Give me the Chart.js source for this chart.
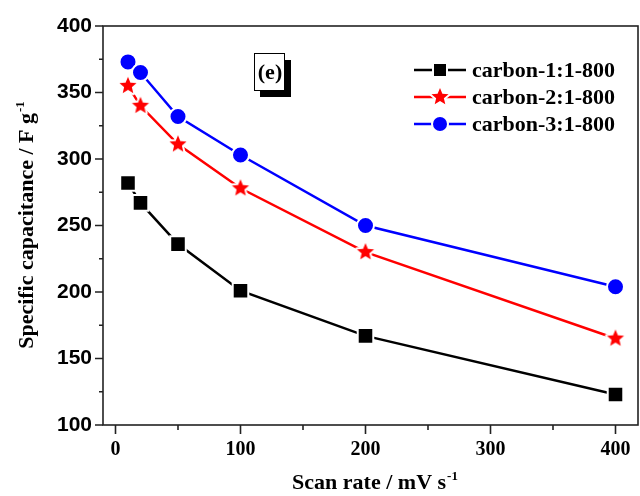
<!DOCTYPE html>
<html>
<head>
<meta charset="utf-8">
<script src="https://cdn.jsdelivr.net/npm/chart.js@4/dist/chart.umd.min.js"></script>
<style>
  html, body { margin: 0; padding: 0; background: #fff; }
  #wrap { width: 640px; height: 496px; }
</style>
</head>
<body>
<div id="wrap"><canvas id="chart1" width="640" height="496"></canvas></div>
<script>
// scan rate (mV/s) and specific capacitance (F/g)
var scanRates = [10, 20, 50, 100, 200, 400];
var carbon1 = [282, 267, 236, 201, 167, 123];
var carbon2 = [355, 340, 311, 278, 230, 165];
var carbon3 = [373, 365, 332, 303, 250, 204];
var seriesNames = ['carbon-1:1-800', 'carbon-2:1-800', 'carbon-3:1-800'];
var xTicks = [0, 100, 200, 300, 400];
var yTicks = [100, 150, 200, 250, 300, 350, 400];

var serif = '"Liberation Serif", "Times New Roman", serif';
var sans = '"Liberation Sans", Arial, sans-serif';

function makeStar(r, color) {
  var c = document.createElement('canvas');
  var s = Math.ceil(r * 2 + 6);
  c.width = c.height = s;
  var g = c.getContext('2d');
  g.beginPath();
  for (var i = 0; i < 10; i++) {
    var rad = i % 2 ? r * 0.45 : r;
    var a = -Math.PI / 2 + i * Math.PI / 5;
    var px = s / 2 + rad * Math.cos(a), py = s / 2 + rad * Math.sin(a);
    if (i) g.lineTo(px, py); else g.moveTo(px, py);
  }
  g.closePath();
  g.lineJoin = 'round';
  g.lineWidth = 4;
  g.strokeStyle = '#fff';
  g.stroke();
  g.fillStyle = color;
  g.fill();
  return c;
}
var redStar = makeStar(9, '#ff0000');

function pts(vals) {
  return scanRates.map(function (x, i) { return { x: x, y: vals[i] }; });
}

// text with a "-1" superscript at the end
function supText(ctx, base, sup, x, y, size) {
  ctx.font = 'bold ' + size + 'px ' + serif;
  var w1 = ctx.measureText(base).width;
  ctx.font = 'bold ' + Math.round(size * 0.6) + 'px ' + serif;
  var w2 = ctx.measureText(sup).width;
  var left = x - (w1 + w2) / 2;
  ctx.textAlign = 'left';
  ctx.textBaseline = 'alphabetic';
  ctx.font = 'bold ' + size + 'px ' + serif;
  ctx.fillText(base, left, y);
  ctx.font = 'bold ' + Math.round(size * 0.6) + 'px ' + serif;
  ctx.fillText(sup, left + w1 + 1, y - size * 0.42);
}

var decor = {
  id: 'decor',
  afterDraw: function (chart) {
    var ctx = chart.ctx, a = chart.chartArea;
    var xs = chart.scales.x, ys = chart.scales.y;
    ctx.save();
    // frame
    ctx.strokeStyle = '#222';
    ctx.lineWidth = 1.6;
    ctx.strokeRect(a.left, a.top, a.right - a.left, a.bottom - a.top);
    // ticks
    ctx.beginPath();
    for (var v = 0; v <= 400; v += 50) {
      var px = xs.getPixelForValue(v);
      var len = v % 100 === 0 ? 9 : 5;
      ctx.moveTo(px, a.bottom);
      ctx.lineTo(px, a.bottom + len);
    }
    for (var w = 100; w <= 400; w += 25) {
      var py = ys.getPixelForValue(w);
      var l2 = w % 50 === 0 ? 8 : 4;
      ctx.moveTo(a.left, py);
      ctx.lineTo(a.left - l2, py);
    }
    ctx.stroke();

    // axis titles
    ctx.fillStyle = '#000';
    supText(ctx, 'Scan rate / mV s', '-1', (a.left + a.right) / 2 + 4, 489, 22);
    ctx.save();
    ctx.translate(33, (a.top + a.bottom) / 2);
    ctx.rotate(-Math.PI / 2);
    supText(ctx, 'Specific capacitance / F g', '-1', 0, 0, 22);
    ctx.restore();

    // (e) label box
    ctx.fillStyle = '#000';
    ctx.fillRect(260, 60, 31, 37);
    ctx.fillStyle = '#fff';
    ctx.fillRect(254, 53, 30, 37);
    ctx.lineWidth = 1;
    ctx.strokeStyle = '#000';
    ctx.strokeRect(254.5, 53.5, 30, 37);
    ctx.fillStyle = '#000';
    ctx.font = 'bold 22px ' + serif;
    ctx.textAlign = 'center';
    ctx.textBaseline = 'middle';
    ctx.fillText('(e)', 270, 73);

    // legend
    var ds = chart.data.datasets;
    for (var i = 0; i < ds.length; i++) {
      var cy = 70 + i * 27;
      var col = ds[i].borderColor;
      ctx.strokeStyle = col;
      ctx.lineWidth = 2.5;
      ctx.beginPath();
      ctx.moveTo(414, cy);
      ctx.lineTo(466, cy);
      ctx.stroke();
      var mx = 440;
      if (ds[i].pointStyle === 'rect') {
        ctx.fillStyle = '#fff';
        ctx.fillRect(mx - 8, cy - 8, 16, 16);
        ctx.fillStyle = col;
        ctx.fillRect(mx - 6, cy - 6, 12, 12);
      } else if (ds[i].pointStyle === 'circle') {
        ctx.fillStyle = '#fff';
        ctx.beginPath(); ctx.arc(mx, cy, 9, 0, Math.PI * 2); ctx.fill();
        ctx.fillStyle = col;
        ctx.beginPath(); ctx.arc(mx, cy, 7, 0, Math.PI * 2); ctx.fill();
      } else {
        ctx.drawImage(redStar, mx - redStar.width / 2, cy - redStar.height / 2);
      }
      ctx.fillStyle = '#000';
      ctx.font = 'bold 22px ' + serif;
      ctx.textAlign = 'left';
      ctx.textBaseline = 'middle';
      ctx.fillText(ds[i].label, 472, cy + 1);
    }
    ctx.restore();
  }
};

var ctx1 = document.getElementById('chart1').getContext('2d');
var chart1 = new Chart(ctx1, {
  type: 'line',
  data: {
    datasets: [{
      label: seriesNames[0],
      data: pts(carbon1),
      borderColor: '#000000',
      backgroundColor: '#000000',
      borderWidth: 2.5,
      pointStyle: 'rect',
      pointRadius: 11,
      pointBorderColor: '#ffffff',
      pointBorderWidth: 2,
      pointBackgroundColor: '#000000'
    }, {
      label: seriesNames[1],
      data: pts(carbon2),
      borderColor: '#ff0000',
      backgroundColor: '#ff0000',
      borderWidth: 2.5,
      pointStyle: redStar,
      pointRadius: 9
    }, {
      label: seriesNames[2],
      data: pts(carbon3),
      borderColor: '#0000ff',
      backgroundColor: '#0000ff',
      borderWidth: 2.5,
      pointStyle: 'circle',
      pointRadius: 8.5,
      pointBorderColor: '#ffffff',
      pointBorderWidth: 2,
      pointBackgroundColor: '#0000ff'
    }]
  },
  options: {
    responsive: false,
    animation: false,
    events: [],
    layout: { autoPadding: false, padding: { left: 0, right: 2, top: 26, bottom: 0 } },
    plugins: {
      legend: { display: false },
      tooltip: { enabled: false }
    },
    scales: {
      x: {
        type: 'linear',
        min: -10,
        max: 418,
        afterBuildTicks: function (s) { s.ticks = xTicks.map(function (v) { return { value: v }; }); },
        afterFit: function (s) {
          s.height = 71;
          s.paddingLeft = 0; s.paddingRight = 0;
        },
        grid: { drawOnChartArea: false, drawTicks: false },
        border: { display: false },
        ticks: {
          padding: 13,
          color: '#000',
          maxRotation: 0,
          font: { family: serif, weight: 'bold', size: 20 }
        }
      },
      y: {
        type: 'linear',
        min: 100,
        max: 400,
        afterBuildTicks: function (s) { s.ticks = yTicks.map(function (v) { return { value: v }; }); },
        afterFit: function (s) {
          s.width = 103;
          s.paddingTop = 0; s.paddingBottom = 0;
        },
        grid: { drawOnChartArea: false, drawTicks: false },
        border: { display: false },
        ticks: {
          padding: 11,
          color: '#000',
          font: { family: sans, weight: 'bold', size: 21 }
        }
      }
    }
  },
  plugins: [decor]
});
</script>
</body>
</html>
